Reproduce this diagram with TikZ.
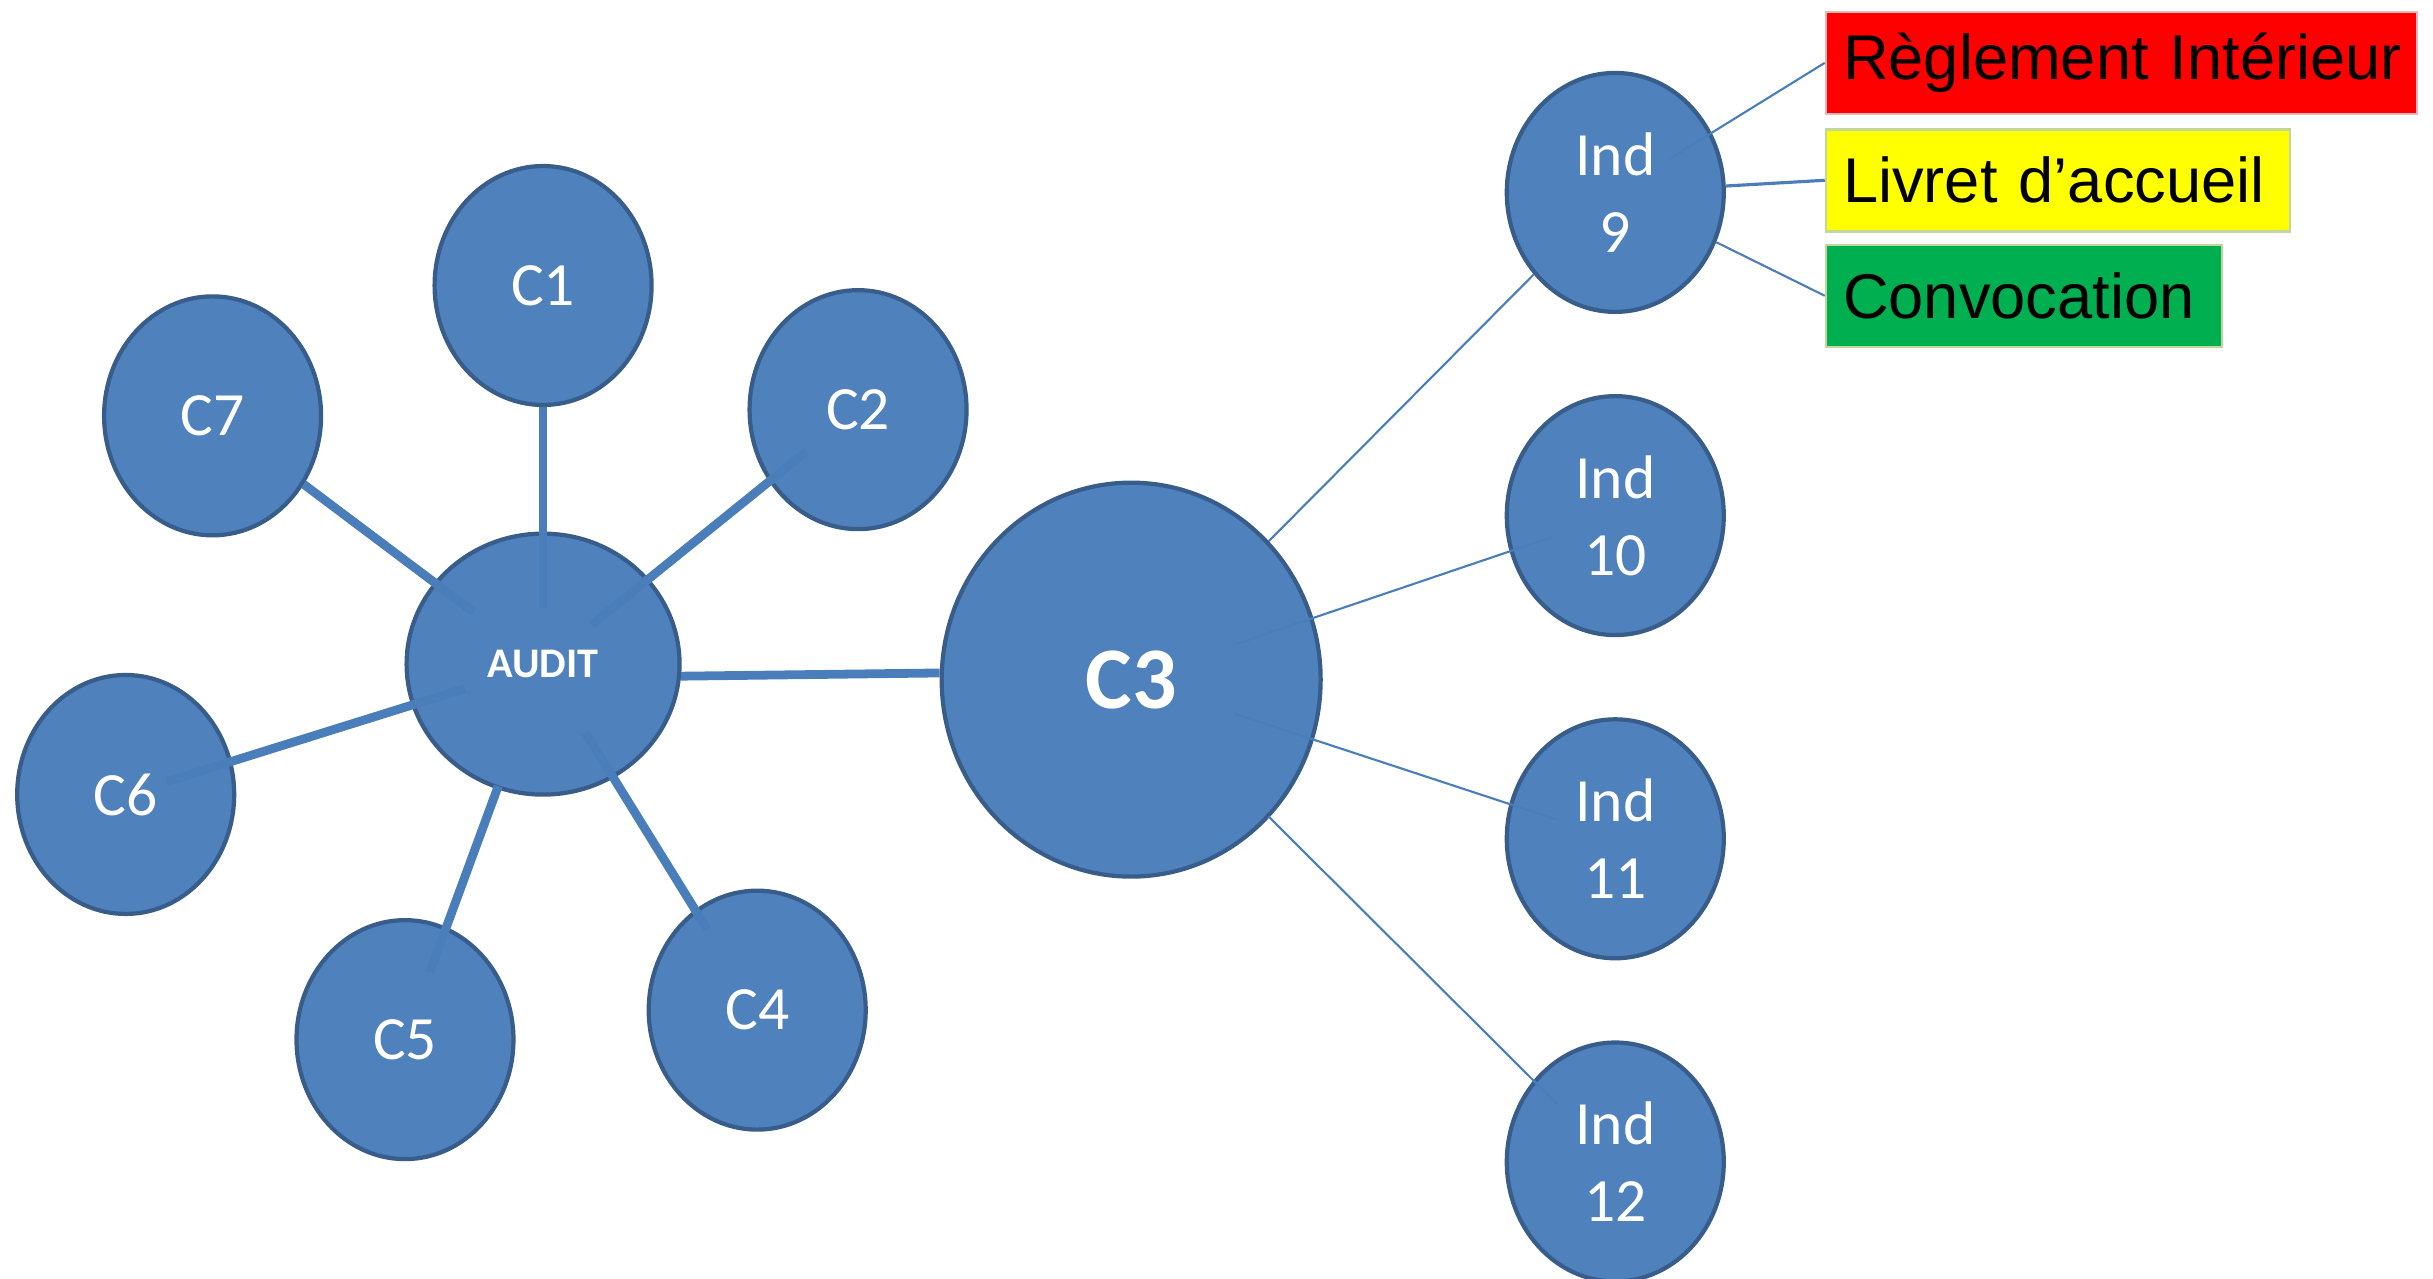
\documentclass[tikz,border=0pt]{standalone}
\usepackage{fontspec}
\setmainfont{Carlito}
\newfontfamily\boxfont{Liberation Sans}
\usepackage{tikz}
\usetikzlibrary{positioning}
\usetikzlibrary{shapes.geometric}
\definecolor{nodeblue}{RGB}{79,129,189}
\definecolor{borderblue}{RGB}{56,93,138}
\definecolor{lineblue}{RGB}{74,126,187}
\definecolor{redbox}{RGB}{255,0,0}
\definecolor{yellowbox}{RGB}{255,255,0}
\definecolor{greenbox}{RGB}{0,176,80}
\definecolor{pinkedge}{RGB}{230,185,184}
\definecolor{paleedge}{RGB}{195,214,155}

\begin{document}
\begin{tikzpicture}[x=0.015517cm, y=-0.015517cm]

        \tikzstyle{theme} = [ellipse, draw=borderblue, fill=nodeblue, line width=1.2pt,
            text=white, inner sep=0pt, minimum width=2.17cm, minimum height=2.39cm,
            align=center, font=\fontsize{17.5}{22}\selectfont]
        \tikzstyle{hub} = [theme, minimum width=2.73cm, minimum height=2.61cm,
            font=\bfseries\fontsize{12}{14}\selectfont]
        \tikzstyle{big} = [theme, minimum width=3.79cm, minimum height=3.94cm,
            font=\bfseries\fontsize{25}{30}\selectfont]
        \tikzstyle{document} = [rectangle, line width=0.7pt, inner xsep=0.17cm, inner ysep=0pt,
            minimum height=1.02cm, align=left, text=black, font=\boxfont\fontsize{18}{22}\selectfont]
        \tikzstyle{spoke} = [draw=lineblue, line width=2.5pt]
        \tikzstyle{twig} = [draw=lineblue, line width=0.6pt]

        \useasboundingbox (0,0) rectangle (1568,824);

        \node[hub]                    (audit)   at (350,428)  {AUDIT};
        \node[theme]                  (c1)      at (350,184)  {C1};
        \node[theme]                  (c2)      at (553,264)  {C2};
        \node[big]                    (c3)      at (729,438)  {C3};
        \node[theme]                  (c4)      at (488,651)  {C4};
        \node[theme]                  (c5)      at (261,670)  {C5};
        \node[theme]                  (c6)      at (81,512)   {C6};
        \node[theme]                  (c7)      at (137,268)  {C7};

        \node[theme]                  (ind9)    at (1041,124) {Ind\\9};
        \node[theme, below=0.8cm of ind9]       (ind10)     {Ind\\10};
        \node[theme, below=0.8cm of ind10]      (ind11)     {Ind\\11};
        \node[theme, below=0.8cm of ind11]      (ind12)     {Ind\\12};

        \node[document, fill=redbox, draw=pinkedge, text width=5.57cm, anchor=west]
            (reglement) at (1176,40.5) {\mbox{Règlement Intérieur}};
        \node[document, fill=yellowbox, draw=paleedge, text width=4.30cm,
            below right=0.13cm and 0cm of reglement.south west] (livret) {\mbox{Livret d’accueil}};
        \node[document, fill=greenbox, draw=paleedge, text width=3.62cm,
            below right=0.11cm and 0cm of livret.south west] (convocation) {\mbox{Convocation}};

        \draw[spoke, shorten <=0.56cm, shorten >=1.21cm] (audit.center) -- (c1.center);
        \draw[spoke, shorten <=0.62cm, shorten >=0.67cm] (audit.center) -- (c2.center);
        \draw[spoke, shorten <=0.81cm, shorten >=0.95cm] (audit.center) -- (c4.center);
        \draw[spoke, shorten <=1.30cm, shorten >=0.72cm] (audit.center) -- (c5.center);
        \draw[spoke, shorten <=0.82cm, shorten >=0.43cm] (audit.center) -- (c6.center);
        \draw[spoke, shorten <=0.87cm, shorten >=1.14cm] (audit.center) -- (c7.center);
        \draw[spoke] (audit.-5) -- (c3.178);

        \draw[twig] (c3) -- (ind9);
        \draw[twig, shorten <=1.10cm, shorten >=0.67cm] (c3.center) -- (ind10.center);
        \draw[twig, shorten <=1.09cm, shorten >=0.62cm] (c3.center) -- (ind11.center);
        \draw[twig, shorten <=1.94cm, shorten >=0.82cm] (c3.center) -- (ind12.center);

        \draw[twig, shorten <=0.62cm] (ind9.center) -- (reglement.west);
        \draw[twig, line width=0.9pt] (ind9) -- (livret.west);
        \draw[twig] (ind9) -- (convocation.west);

      \end{tikzpicture}
\end{document}
